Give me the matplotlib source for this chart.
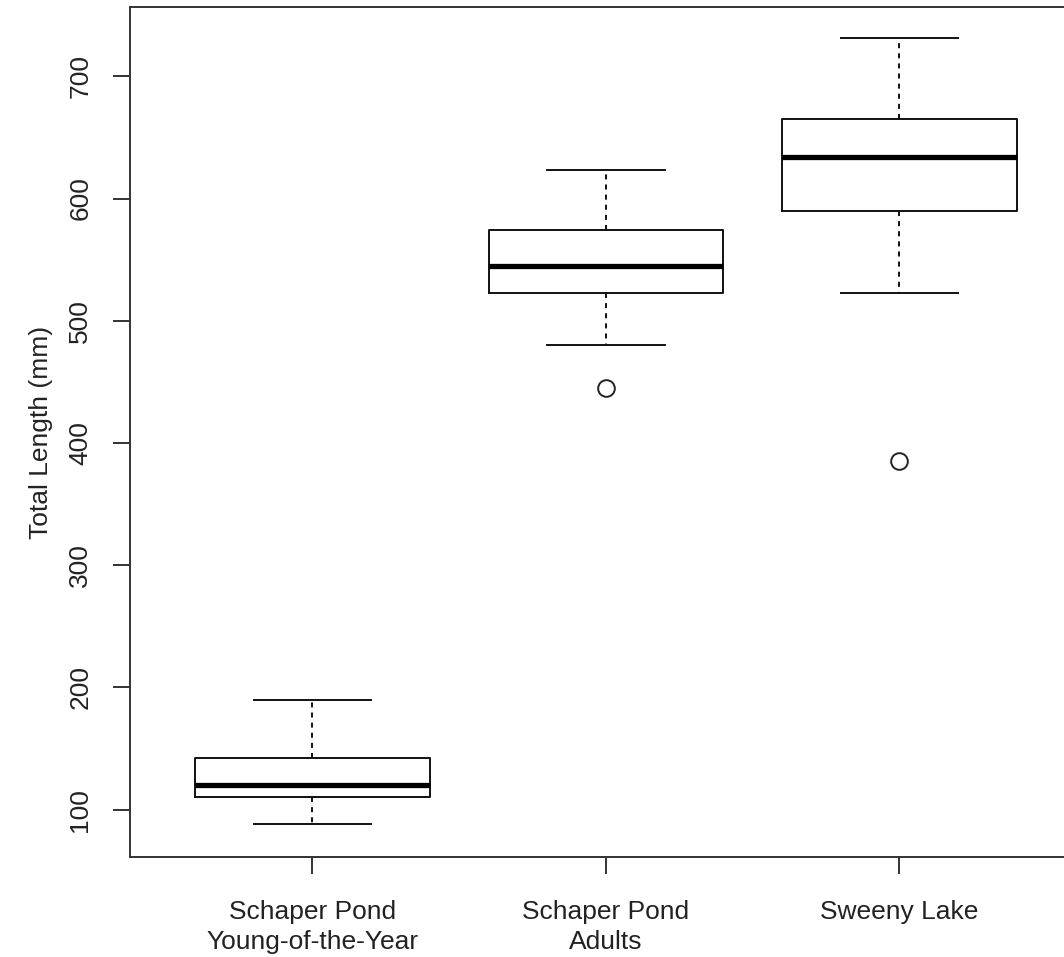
import matplotlib
matplotlib.use("Agg")
import matplotlib.pyplot as plt

plt.rcParams['font.family'] = ['Liberation Sans', 'DejaVu Sans']

# summary stats (mm)
groups = ["Schaper Pond\nYoung-of-the-Year", "Schaper Pond\nAdults", "Sweeny Lake"]
whislo = [88, 480, 523]
q1 = [110, 523, 590]
med = [120, 545, 634]
q3 = [142, 574, 665]
whishi = [190, 623, 731]
fliers = [[], [445], [385]]
yticks = [100, 200, 300, 400, 500, 600, 700]

stats = []
for i, g in enumerate(groups):
    stats.append({"label": g, "whislo": whislo[i], "q1": q1[i], "med": med[i],
                  "q3": q3[i], "whishi": whishi[i], "fliers": fliers[i]})

fig = plt.figure(figsize=(10.64, 9.57), dpi=100)
ax = fig.add_axes([0.1226, 0.1048, 0.8938, 0.8876])

line_col = "#111111"
ax.bxp(stats, positions=[1, 2, 3], widths=0.8, capwidths=0.4,
       boxprops=dict(color=line_col, linewidth=1.4),
       medianprops=dict(color="black", linewidth=3.8, solid_capstyle="butt"),
       whiskerprops=dict(color=line_col, linewidth=1.4, linestyle=(0, (2.6, 2.6))),
       capprops=dict(color=line_col, linewidth=1.4),
       flierprops=dict(marker="o", markersize=12, markerfacecolor="none",
                       markeredgecolor="#222222", markeredgewidth=1.4))

ax.set_xlim(0.38, 3.62)
ax.set_ylim(61.5, 756.5)
ax.set_yticks(yticks)
ax.set_yticklabels([str(v) for v in yticks], rotation=90, va="center")
ax.set_xticks([1, 2, 3])
ax.set_xticklabels(groups, linespacing=1.35)

ax.tick_params(axis="both", length=12, width=1.4, color="#333333",
               labelsize=19, labelcolor="#222222")
ax.tick_params(axis="y", pad=15.5)
ax.tick_params(axis="x", pad=19)
for s in ax.spines.values():
    s.set_linewidth(1.4)
    s.set_color("#333333")

ax.set_ylabel("Total Length (mm)", fontsize=19, color="#222222", labelpad=11)

fig.savefig("out.png", dpi=100)
